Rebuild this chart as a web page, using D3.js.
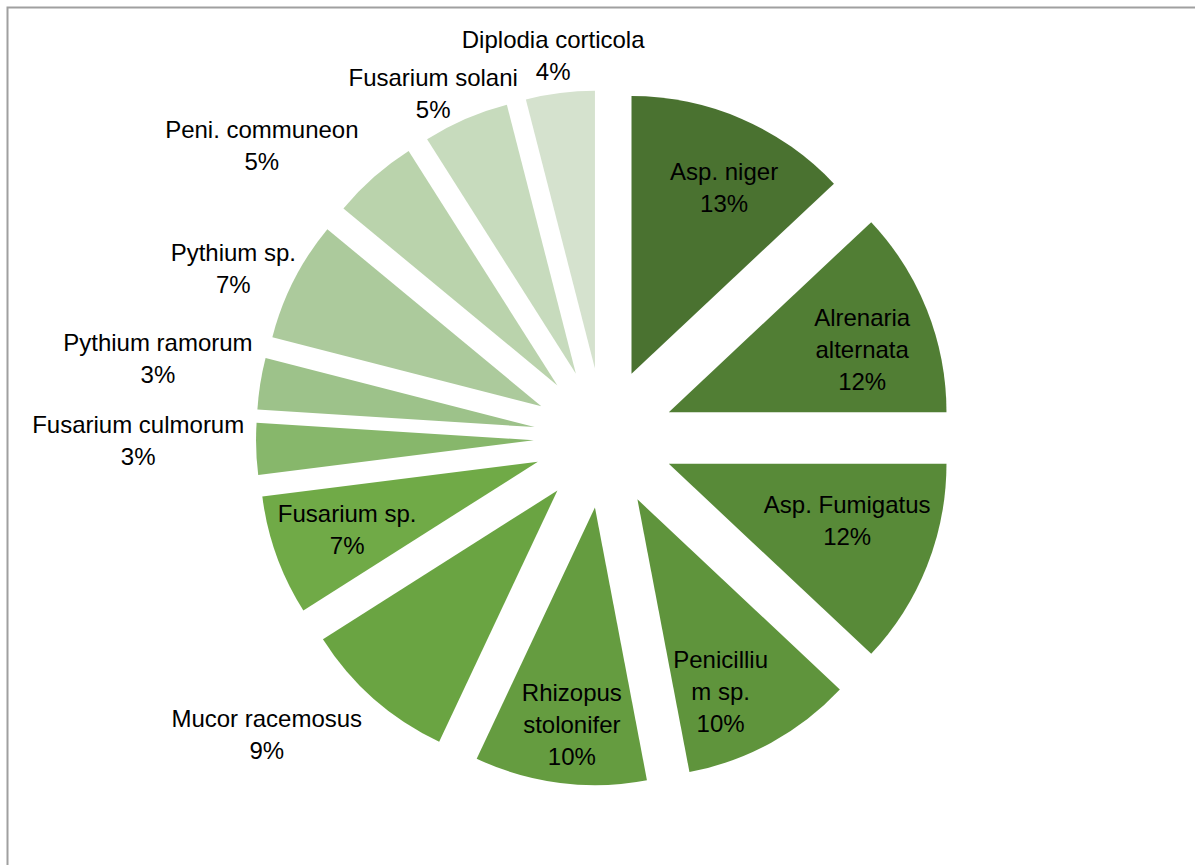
<!DOCTYPE html>
<html>
<head>
<meta charset="utf-8">
<script src="https://cdn.jsdelivr.net/npm/d3@7"></script>
<style>
  html, body { margin: 0; padding: 0; background: #fff; }
  svg { display: block; }
  text { font-family: "Liberation Sans", Arial, sans-serif; font-size: 24px; fill: #000; }
</style>
</head>
<body>
<svg id="chart" width="1195" height="865"></svg>
<script>
// ---- data ----
const categories = ["Asp. niger", "Alrenaria alternata", "Asp. Fumigatus", "Penicillium sp.",
  "Rhizopus stolonifer", "Mucor racemosus", "Fusarium sp.", "Fusarium culmorum",
  "Pythium ramorum", "Pythium sp.", "Peni. communeon", "Fusarium solani", "Diplodia corticola"];
const values = [13, 12, 12, 10, 10, 9, 7, 3, 3, 7, 5, 5, 4];
const labelLines = [["Asp. niger"], ["Alrenaria", "alternata"], ["Asp. Fumigatus"], ["Penicilliu", "m sp."],
  ["Rhizopus", "stolonifer"], ["Mucor racemosus"], ["Fusarium sp."], ["Fusarium culmorum"],
  ["Pythium ramorum"], ["Pythium sp."], ["Peni. communeon"], ["Fusarium solani"], ["Diplodia corticola"]];
const colors = ["#4A7230", "#517E34", "#588A38", "#5F943C", "#659C40", "#6AA442", "#70AA47",
  "#87B76B", "#9DC28A", "#ACCA9C", "#BAD3AC", "#C7DBBD", "#D5E2CE"];
const labelInside = [true, true, true, true, true, false, true, false, false, false, false, false, false];
const labelNudge = [[10, 5], [0, 14], [-15, -20], [-17, 10], [3, 11], [-36, 6], [5, -3],
  [0, -10], [3, -19], [6, 7], [-40, -2], [6, 11], [6, 2]];

// ---- layout ----
const cx = 603.7, cy = 438, R = 277.7, explode = 70;
const lineH = 32, capHalf = 8.5;

const svg = d3.select("#chart");

// outer frame (partially visible)
svg.append("rect").attr("x", 7.5).attr("y", 7.5).attr("width", 1400).attr("height", 1000)
  .attr("fill", "none").attr("stroke", "#a0a0a0").attr("stroke-width", 2);

const data = categories.map((c, i) => ({ name: c, value: values[i], i }));
const pie = d3.pie().value(d => d.value).sort(null).startAngle(0).endAngle(2 * Math.PI);
const arcs = pie(data);
const arc = d3.arc().innerRadius(0).outerRadius(R);

const g = svg.append("g").attr("transform", `translate(${cx},${cy})`);

g.selectAll("path.slice").data(arcs).enter().append("path")
  .attr("class", "slice")
  .attr("d", arc)
  .attr("fill", d => colors[d.data.i])
  .attr("transform", d => {
    const a = (d.startAngle + d.endAngle) / 2;
    return `translate(${explode * Math.sin(a)},${-explode * Math.cos(a)})`;
  });

// labels
const labelG = svg.append("g");
arcs.forEach(d => {
  const i = d.data.i;
  const a = (d.startAngle + d.endAngle) / 2;
  const s = Math.sin(a), c = Math.cos(a);
  const lines = labelLines[i].concat([d3.format(".0f")(values[i]) + "%"]);
  const t = labelG.append("text").attr("text-anchor", "middle");
  lines.forEach((ln) => t.append("tspan").text(ln));
  let w = 0;
  t.selectAll("tspan").each(function () { w = Math.max(w, this.getComputedTextLength()); });
  const h = (lines.length - 1) * lineH + 24;
  let x, y;
  if (labelInside[i]) {
    const r = 278;
    x = cx + r * s; y = cy - r * c;
  } else {
    const r = R + explode + 12;
    x = cx + r * s + s * w / 2;
    y = cy - r * c - c * h / 2;
  }
  x += labelNudge[i][0]; y += labelNudge[i][1];
  const y0 = y - (lines.length - 1) * lineH / 2 + capHalf;
  t.selectAll("tspan").attr("x", x).attr("y", (_, k) => y0 + k * lineH);
});
</script>
</body>
</html>
